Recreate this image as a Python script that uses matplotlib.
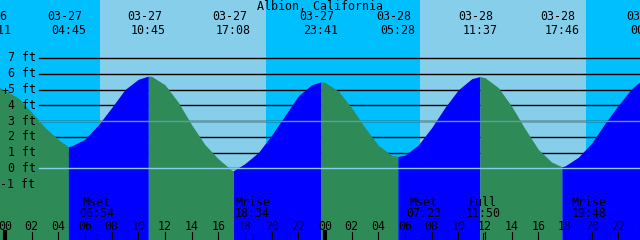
import numpy as np
import matplotlib
matplotlib.use('Agg')
import matplotlib.pyplot as plt
import matplotlib.transforms as mtransforms

station = 'Albion, California'

# high / low tide events
ev_date = ['03-26', '03-27', '03-27', '03-27', '03-27', '03-28', '03-28', '03-28', '03-29']
ev_time = ['23:11', '04:45', '10:45', '17:08', '23:41', '05:28', '11:37', '17:46', '00:11']
ev_height = [5.3, 1.37, 5.85, -0.15, 5.48, 0.75, 5.82, 0.10, 5.80]

# hourly heights (ft), hours counted from 03-27 00:00
hour_t = list(range(-1, 49))
hour_h = [5.25, 4.94, 4.46, 3.56, 2.59, 1.82, 1.42, 1.85, 2.75, 3.85,
          5.00, 5.65, 5.83, 5.30, 4.19, 2.76, 1.50, 0.60, -0.12, 0.30,
          1.00, 2.10, 3.35, 4.60, 5.30, 5.45, 4.90, 3.84, 2.58, 1.46,
          0.83, 0.84, 1.48, 2.58, 3.86, 4.98, 5.68, 5.75, 5.12, 3.94,
          2.51, 1.20, 0.40, 0.15, 0.70, 1.60, 2.85, 4.00, 5.05, 5.75]

sun_rise = [('03-27', '07:07'), ('03-28', '07:07')]
sun_set = [('03-27', '19:35'), ('03-28', '19:35')]

moon_name = ['Mset', 'Mrise', 'Mset', 'Full', 'Mrise']
moon_date = ['03-27', '03-27', '03-28', '03-28', '03-28']
moon_time = ['06:54', '18:34', '07:23', '11:50', '19:48']

ft_levels = [7, 6, 5, 4, 3, 2, 1, 0, -1]


def hours(date, time):
    day = int(date[3:]) - 27
    hh, mm = time.split(':')
    return day * 24 + int(hh) + int(mm) / 60.


W, H = 640, 240
px_per_h = 13.333
px_per_ft = 15.76
x0_px, y0_px = 5.0, 168.3   # pixel of 03-27 00:00 and of 0 ft
xlim = (-x0_px / px_per_h, (W - x0_px) / px_per_h)
ylim = (-(H - y0_px) / px_per_ft, y0_px / px_per_ft)

fig = plt.figure(figsize=(6.4, 2.4), dpi=100)
fig.patch.set_facecolor('#00bfff')
ax = fig.add_axes([0, 0, 1, 1])
ax.set_xlim(*xlim)
ax.set_ylim(*ylim)
ax.set_axis_off()

xt = mtransforms.blended_transform_factory(ax.transData, ax.transAxes)
yt = mtransforms.blended_transform_factory(ax.transAxes, ax.transData)
font = dict(family='DejaVu Sans Mono', fontsize=8.4, color='black')

# night / day
ax.axvspan(xlim[0], xlim[1], color='#00bfff', lw=0, zorder=0)
for (rd, rt), (sd, st) in zip(sun_rise, sun_set):
    ax.axvspan(hours(rd, rt), hours(sd, st), color='#87ceeb', lw=0, zorder=0)

# depth lines
for lev in ft_levels[:-1]:
    ax.axhline(lev, xmin=39 / W, xmax=1, color='black', lw=1, zorder=1)

# tide curve, filled blue on the flood and green on the ebb
ev_t = [hours(d, t) for d, t in zip(ev_date, ev_time)]
t_all = np.array(hour_t + ev_t, dtype=float)
h_all = np.array(hour_h + ev_height, dtype=float)
order = np.argsort(t_all)
t_all, h_all = t_all[order], h_all[order]

bounds = [t_all[0]] + sorted(ev_t) + [t_all[-1]]
for a, b in zip(bounds[:-1], bounds[1:]):
    m = (t_all >= a) & (t_all <= b)
    if m.sum() < 2:
        continue
    seg_t, seg_h = t_all[m], h_all[m]
    col = '#0000ff' if seg_h[-1] > seg_h[0] else '#2e8b57'
    ax.fill_between(seg_t, seg_h, ylim[0], color=col, lw=0, antialiased=False, zorder=2)

ax.axhline(3, xmin=39 / W, xmax=1, color='#5f9ea0', lw=1, zorder=3)
ax.axhline(0, xmin=39 / W, xmax=1, color='#87ceeb', lw=1, zorder=3)

# depth labels
for lev in ft_levels:
    ax.text(35.5 / W, lev, '%d ft' % lev, transform=yt, ha='right', va='center', zorder=5, **font)
ax.text(4.5 / W, 1 - 91.5 / H, '+', transform=ax.transAxes, ha='center', va='center', zorder=5, **font)

# title and tide events
ax.text(0.5, 1 - 6.5 / H, station, transform=ax.transAxes, ha='center', va='center', zorder=5, **font)
for d, t in zip(ev_date, ev_time):
    h = hours(d, t)
    ax.text(h - 4 / px_per_h, 1 - 17 / H, d, transform=xt, ha='center', va='center', zorder=5, **font)
    ax.text(h, 1 - 30 / H, t, transform=xt, ha='center', va='center', zorder=5, **font)

# moon events
for n, d, t in zip(moon_name, moon_date, moon_time):
    h = hours(d, t)
    ax.text(h, 1 - 202 / H, n, transform=xt, ha='center', va='center', zorder=5, **font)
    ax.text(h, 1 - 213.5 / H, t, transform=xt, ha='center', va='center', zorder=5, **font)
    ax.axvline(h, ymin=0, ymax=7 / H, color='black', lw=0.8, zorder=4)

# hour axis
for h in range(0, 50, 2):
    ax.text(h, 1 - 226 / H, '%02d' % (h % 24), transform=xt, ha='center', va='center', zorder=5, **font)
    ax.axvline(h, ymin=0, ymax=8 / H, color='black', lw=3 if h % 24 == 0 else 0.8, zorder=4)

fig.savefig('out.png', dpi=100, facecolor=fig.get_facecolor())
